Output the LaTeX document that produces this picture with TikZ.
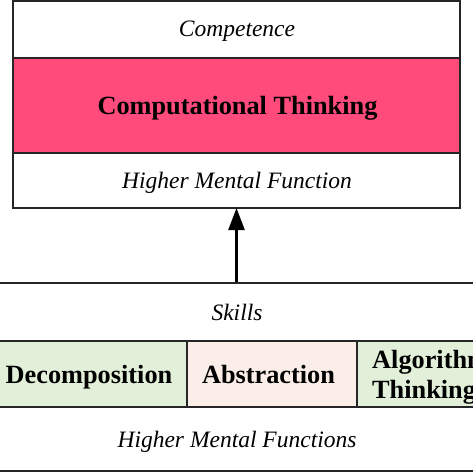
\documentclass[tikz,border=0pt]{standalone}
\usepackage{fontspec}
\setmainfont{Liberation Serif}
\usetikzlibrary{arrows.meta,positioning}
\definecolor{ctpink}{HTML}{FF4A7C}
\definecolor{skgreen}{HTML}{E2F0D9}
\definecolor{skpeach}{HTML}{FBEEE8}
\definecolor{frame}{HTML}{262626}
\tikzset{
  band/.style={draw=frame,line width=1.2pt,rectangle,inner sep=0pt,outer sep=0pt},
  itlab/.style={font=\fontsize{23.5}{28}\selectfont\itshape,anchor=base,inner sep=0pt},
  bflab/.style={font=\fontsize{26.3}{30}\selectfont\bfseries,anchor=base,inner sep=0pt},
  skillbox/.style={draw=frame,line width=1.4pt,rectangle,inner sep=0pt,outer sep=0pt},
}
\begin{document}
\begin{tikzpicture}[x=1pt,y=-1pt]
\useasboundingbox (0,0) rectangle (473,473);
% top box bands
\node[band,fill=white,minimum width=447pt,minimum height=57pt] (comp) at (236.5,29.5) {};
\node[band,fill=ctpink,minimum width=447pt,minimum height=95pt] (ct) at (236.5,105.5) {};
\node[band,fill=white,minimum width=447pt,minimum height=55pt] (hmf) at (236.5,180.5) {};
\draw[frame,line width=1.8pt] (comp.north west) rectangle (hmf.south east);
\node[itlab] (compt) at (237,37) {Competence};
\node[bflab] (ctt) at (237.5,115) {Computational Thinking};
\node[itlab] (hmft) at (237,188) {Higher Mental Function};
% big lower box
\node[draw=frame,line width=1.8pt,rectangle,inner sep=0pt,minimum width=520pt,minimum height=188pt] (big) at (236.5,377) {};
\node[itlab] (skills) at (237,320) {Skills};
% skill boxes
\node[skillbox,fill=skgreen,minimum width=196pt,minimum height=66pt] (dec) at (89,374) {};
\node[skillbox,fill=skpeach,minimum width=170pt,minimum height=66pt] (abs) at (272,374) {};
\node[skillbox,fill=skgreen,minimum width=180pt,minimum height=66pt,anchor=west] (alg) at (abs.east) {};
\node[bflab] (dect) at (89,383) {Decomposition};
\node[bflab] (abst) at (268.5,383) {Abstraction};
\node[bflab,anchor=base west] (algt1) at (372,368) {Algorithmic};
\node[bflab,anchor=base west] (algt2) at (372,398) {Thinking};
\node[itlab] (hmfs) at (237,447) {Higher Mental Functions};
% arrow
\draw[line width=2.4pt,-{Triangle[length=22pt,width=16pt]}] (big.north -| hmf.south) -- (hmf.south);
\end{tikzpicture}
\end{document}
